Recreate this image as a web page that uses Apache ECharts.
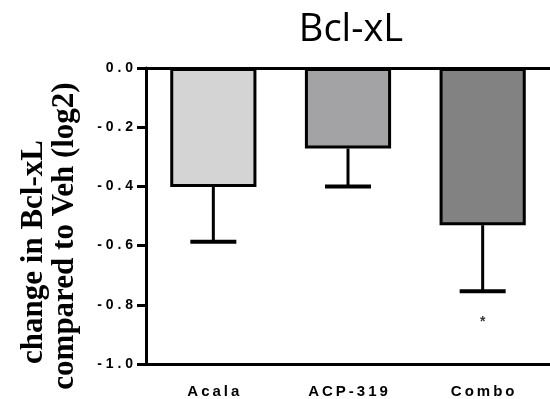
<!DOCTYPE html>
<html>
<head>
<meta charset="utf-8">
<script src="https://cdn.jsdelivr.net/npm/echarts@6/dist/echarts.min.js"></script>
<style>
  html, body { margin: 0; padding: 0; background: #fff; }
  #chart { width: 550px; height: 399px; }
</style>
</head>
<body>
<div id="chart"></div>
<script>
// Bcl-xL change vs vehicle (log2), mean with upper error bar
const categories = ['Acala', 'ACP-319', 'Combo'];
const meanValues = [-0.402, -0.272, -0.531];
const errorValues = [0.185, 0.128, 0.223];
const barColors = ['#d4d4d4', '#a3a3a6', '#828282'];
const yTicks = [0, -0.2, -0.4, -0.6, -0.8, -1.0];
// significance marks: [category index, value, text]
const sigMarks = [[2, -0.859, '*']];

const THIN = '\u2009';
const spaced = (s, gap) => String(s).split('').join(gap);

const chart = echarts.init(document.getElementById('chart'));

const option = {
  animation: false,
  backgroundColor: '#ffffff',
  title: {
    text: 'Bcl-xL',
    left: 346,
    textAlign: 'center',
    top: 6,
    textStyle: { fontFamily: 'Open Sans', fontWeight: 'normal', fontSize: 38, color: '#000' }
  },
  graphic: [
    {
      type: 'text', x: 34, y: 252, rotation: Math.PI / 2,
      style: { text: 'change in Bcl-xL', font: 'bold 31px "Liberation Serif"', fill: '#000',
        textAlign: 'center', textVerticalAlign: 'middle' }
    },
    {
      type: 'text', x: 65, y: 236, rotation: Math.PI / 2,
      style: { text: 'compared to Veh (log2)', font: 'bold 31px "Liberation Serif"', fill: '#000',
        textAlign: 'center', textVerticalAlign: 'middle' }
    }
  ],
  grid: { left: 146, right: 0, top: 68, bottom: 34, containLabel: false },
  xAxis: {
    type: 'category',
    data: categories,
    boundaryGap: true,
    position: 'bottom',
    axisLine: { onZero: false, lineStyle: { color: '#000', width: 3 } },
    axisTick: { alignWithLabel: true, length: 9, lineStyle: { color: '#000', width: 3 } },
    axisLabel: {
      margin: 20,
      fontFamily: 'Liberation Sans', fontWeight: 'bold', fontSize: 15, color: '#000',
      formatter: v => spaced(v, THIN)
    },
    splitLine: { show: false }
  },
  yAxis: {
    type: 'value',
    min: -1.0,
    max: 0,
    interval: 0.2,
    axisLine: { show: true, lineStyle: { color: '#000', width: 3 } },
    axisTick: { show: true, length: 9, lineStyle: { color: '#000', width: 3 } },
    axisLabel: {
      margin: 13,
      fontFamily: 'Liberation Sans', fontWeight: 'bold', fontSize: 14, color: '#000',
      formatter: v => {
        const hit = yTicks.find(t => Math.abs(t - v) < 1e-6);
        return hit === undefined ? '' : spaced(hit.toFixed(1), ' ');
      }
    },
    splitLine: { show: false }
  },
  series: [
    {
      type: 'bar',
      data: meanValues.map((v, i) => ({ value: v, itemStyle: { color: barColors[i] } })),
      barWidth: '64%',
      itemStyle: { borderColor: '#000', borderWidth: 3 },
      markLine: {
        silent: true,
        symbol: ['none', 'none'],
        label: { show: false },
        lineStyle: { color: '#000', width: 3, type: 'solid' },
        data: [{ yAxis: 0 }]
      },
      z: 2
    },
    {
      type: 'custom',
      z: 3,
      data: meanValues.map((v, i) => [i, v, v - errorValues[i]]),
      renderItem: (params, api) => {
        const base = api.coord([api.value(0), api.value(1)]);
        const end = api.coord([api.value(0), api.value(2)]);
        const capHalf = 23;
        return {
          type: 'group',
          children: [
            { type: 'line', shape: { x1: base[0], y1: base[1], x2: end[0], y2: end[1] },
              style: { stroke: '#000', lineWidth: 3 } },
            { type: 'line', shape: { x1: end[0] - capHalf, y1: end[1], x2: end[0] + capHalf, y2: end[1] },
              style: { stroke: '#000', lineWidth: 4 } }
          ]
        };
      }
    },
    {
      type: 'scatter',
      data: sigMarks.map(m => [m[0], m[1]]),
      symbolSize: 0,
      label: {
        show: true, position: 'inside',
        formatter: p => sigMarks[p.dataIndex][2],
        fontFamily: 'Liberation Sans', fontWeight: 'bold', fontSize: 14, color: '#000'
      }
    }
  ]
};

chart.setOption(option);
</script>
</body>
</html>
